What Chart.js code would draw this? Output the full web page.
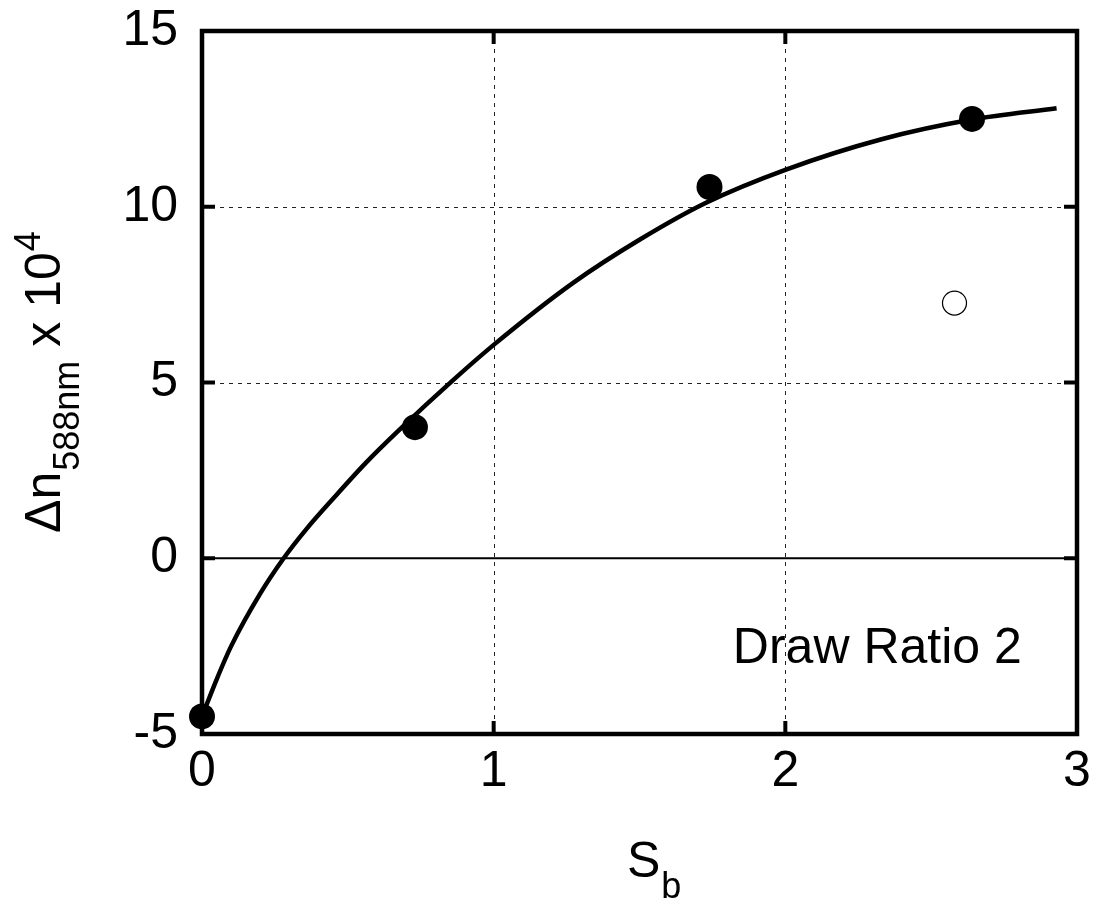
<!DOCTYPE html>
<html>
<head>
<meta charset="utf-8">
<script src="https://cdn.jsdelivr.net/npm/chart.js@4/dist/chart.umd.min.js"></script>
<style>
  html, body { margin: 0; padding: 0; background: #fff; }
  #wrap { width: 1095px; height: 904px; }
</style>
</head>
<body>
<div id="wrap"><canvas id="birefChart"></canvas></div>
<script>
// values
const filledX = [0, 0.73, 1.74, 2.64];
const filledY = [-4.5, 3.73, 10.56, 12.5];
const openX = [2.58];
const openY = [7.26];
const fitX = [0, 0.05, 0.1, 0.2, 0.28, 0.36, 0.45, 0.56, 0.68, 0.86, 1.0, 1.27, 1.5, 1.73, 2.0, 2.33, 2.64, 2.93];
const fitY = [-4.5, -3.45, -2.5, -1.0, 0, 0.85, 1.7, 2.7, 3.68, 5.06, 6.07, 7.82, 9.06, 10.12, 11.05, 11.92, 12.48, 12.8];
const xTicks = [0, 1, 2, 3];
const yTicks = [-5, 0, 5, 10, 15];

const FONT = '"Liberation Sans", Arial, Helvetica, sans-serif';

const toPts = (xs, ys) => xs.map((x, i) => ({ x: x, y: ys[i] }));

// frame, dotted grid, zero line and inward ticks
const framePlugin = {
  id: "frame",
  beforeDatasetsDraw(chart) {
    const { ctx, chartArea: a, scales } = chart;
    const xs = scales.x, ys = scales.y;
    ctx.save();
    // dotted grid
    ctx.strokeStyle = "#222";
    ctx.lineWidth = 1;
    ctx.setLineDash([4, 5]);
    xTicks.slice(1, -1).forEach(v => {
      const px = Math.round(xs.getPixelForValue(v)) + 0.5;
      ctx.beginPath(); ctx.moveTo(px, a.top); ctx.lineTo(px, a.bottom); ctx.stroke();
    });
    yTicks.slice(1, -1).forEach(v => {
      if (v === 0) return;
      const py = Math.round(ys.getPixelForValue(v)) + 0.5;
      ctx.beginPath(); ctx.moveTo(a.left, py); ctx.lineTo(a.right, py); ctx.stroke();
    });
    ctx.setLineDash([]);
    // zero line
    const y0 = ys.getPixelForValue(0);
    ctx.strokeStyle = "#000";
    ctx.lineWidth = 2.2;
    ctx.beginPath(); ctx.moveTo(a.left, y0); ctx.lineTo(a.right, y0); ctx.stroke();
    // inward ticks
    ctx.lineWidth = 4;
    const tl = 13;
    yTicks.slice(1, -1).forEach(v => {
      const py = ys.getPixelForValue(v);
      ctx.beginPath(); ctx.moveTo(a.left, py); ctx.lineTo(a.left + tl, py); ctx.stroke();
      ctx.beginPath(); ctx.moveTo(a.right, py); ctx.lineTo(a.right - tl, py); ctx.stroke();
    });
    xTicks.slice(1, -1).forEach(v => {
      const px = xs.getPixelForValue(v);
      ctx.beginPath(); ctx.moveTo(px, a.bottom); ctx.lineTo(px, a.bottom - tl); ctx.stroke();
      ctx.beginPath(); ctx.moveTo(px, a.top); ctx.lineTo(px, a.top + tl); ctx.stroke();
    });
    // frame
    ctx.lineWidth = 4.5;
    ctx.strokeRect(a.left, a.top, a.right - a.left, a.bottom - a.top);
    ctx.restore();
  },
  afterDraw(chart) {
    const { ctx, scales } = chart;
    ctx.save();
    ctx.fillStyle = "#000";
    ctx.textBaseline = "alphabetic";
    ctx.textAlign = "left";

    // annotation
    ctx.font = "50px " + FONT;
    ctx.fillText("Draw Ratio 2", scales.x.getPixelForValue(1.82), scales.y.getPixelForValue(-2.98));

    // x title S_b
    ctx.font = "50px " + FONT;
    ctx.fillText("S", 627, 877);
    const sw = ctx.measureText("S").width;
    ctx.font = "36px " + FONT;
    ctx.fillText("b", 627 + sw + 1, 898);

    // y title, rotated
    ctx.translate(0, 533);
    ctx.rotate(-Math.PI / 2);
    let u = 0;
    ctx.font = "50px " + FONT;
    ctx.fillText("\u0394n", u, 60);
    u += ctx.measureText("\u0394n").width + 1;
    ctx.font = "36px " + FONT;
    ctx.fillText("588nm", u, 79);
    u += ctx.measureText("588nm").width + 14;
    ctx.font = "50px " + FONT;
    ctx.fillText("x 10", u, 60);
    u += ctx.measureText("x 10").width + 1;
    ctx.font = "36px " + FONT;
    ctx.fillText("4", u, 40);
    ctx.restore();
  }
};

new Chart(document.getElementById("birefChart"), {
  type: "scatter",
  data: {
    datasets: [
      {
        label: "measured",
        data: toPts(filledX, filledY),
        pointRadius: 13,
        pointBackgroundColor: "#000",
        pointBorderColor: "#000",
        pointBorderWidth: 0,
        showLine: false,
        clip: false
      },
      {
        label: "open",
        data: toPts(openX, openY),
        pointRadius: 12,
        pointBackgroundColor: "#fff",
        pointBorderColor: "#000",
        pointBorderWidth: 1.2,
        showLine: false,
        clip: false
      },
      {
        label: "fit",
        data: toPts(fitX, fitY),
        showLine: true,
        pointRadius: 0,
        borderColor: "#000",
        borderWidth: 4.5,
        cubicInterpolationMode: "monotone",
        fill: false,
        clip: false
      }
    ]
  },
  options: {
    responsive: true,
    maintainAspectRatio: false,
    animation: false,
    layout: { padding: { top: 31, right: 18, left: 0, bottom: 0 } },
    plugins: {
      legend: { display: false },
      tooltip: { enabled: false }
    },
    scales: {
      x: {
        type: "linear",
        min: 0,
        max: 3,
        afterBuildTicks: s => { s.ticks = xTicks.map(v => ({ value: v })); },
        afterFit: s => { s.height = 170; s.paddingLeft = 0; s.paddingRight = 0; },
        grid: { display: false, drawTicks: false },
        border: { display: false },
        ticks: { color: "#000", padding: 8, font: { size: 50, family: FONT } }
      },
      y: {
        type: "linear",
        min: -5,
        max: 15,
        afterBuildTicks: s => { s.ticks = yTicks.map(v => ({ value: v })); },
        afterFit: s => { s.width = 202; s.paddingTop = 0; s.paddingBottom = 0; },
        grid: { display: false, drawTicks: false },
        border: { display: false },
        ticks: { color: "#000", padding: 24, font: { size: 50, family: FONT } }
      }
    }
  },
  plugins: [framePlugin]
});
</script>
</body>
</html>
